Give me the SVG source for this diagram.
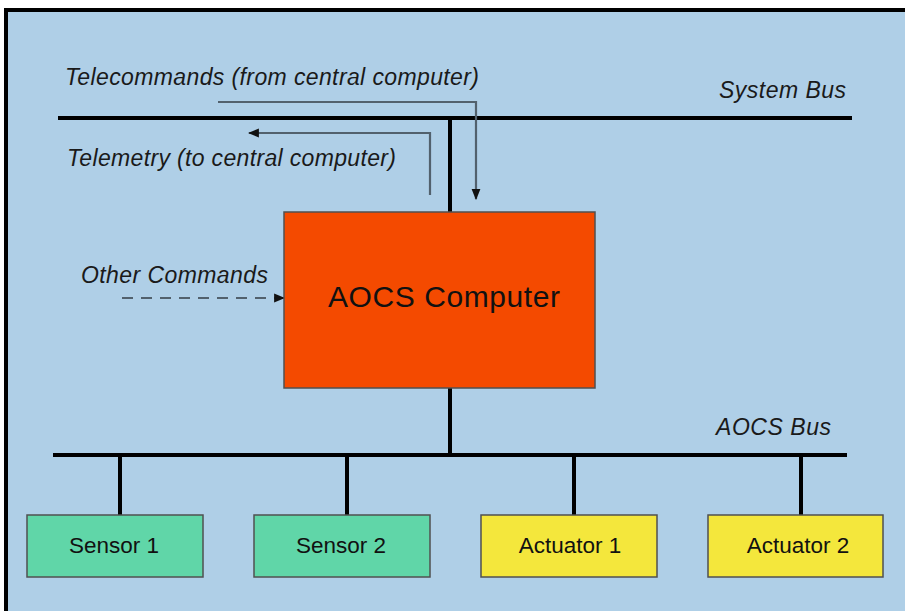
<svg xmlns="http://www.w3.org/2000/svg" width="905" height="611" viewBox="0 0 905 611">
<style>
.lbl{font-family:"Liberation Sans",Arial,sans-serif;font-style:italic;font-size:23px;fill:#1a1a1a}
.bus{stroke:#000;stroke-width:4;fill:none}
.sig{stroke:#52616d;stroke-width:2.2;fill:none}
.box{stroke:#505050;stroke-width:1.5}
.btxt{font-family:"Liberation Sans",Arial,sans-serif;font-size:22.5px;fill:#111;text-anchor:middle}
</style>
<defs>
<marker id="ah2" viewBox="0 0 10 10" refX="9" refY="5" markerWidth="11" markerHeight="11" orient="auto" markerUnits="userSpaceOnUse">
<path d="M0,1 L10,5 L0,9 z" fill="#111"/>
</marker>
</defs>
<rect x="0" y="0" width="905" height="611" fill="#ffffff"/>
<rect x="6" y="10" width="905" height="610" fill="#afcfe7" stroke="#000" stroke-width="4"/>

<g id="connectors">
<line class="bus" x1="58" y1="118" x2="852" y2="118"/>
<line class="bus" x1="450" y1="118" x2="450" y2="212"/>
<path class="sig" d="M218,102 H476 V199" marker-end="url(#ah2)"/>
<path class="sig" d="M430,195 V133 H249" marker-end="url(#ah2)"/>
<line class="sig" x1="122" y1="298" x2="284" y2="298" stroke-dasharray="11,8" marker-end="url(#ah2)"/>
<line class="bus" x1="450" y1="388" x2="450" y2="455"/>
<line class="bus" x1="53" y1="455" x2="847" y2="455"/>
<line class="bus" x1="120" y1="455" x2="120" y2="515"/>
<line class="bus" x1="347" y1="455" x2="347" y2="515"/>
<line class="bus" x1="574" y1="455" x2="574" y2="515"/>
<line class="bus" x1="801" y1="455" x2="801" y2="515"/>
</g>

<g id="labels">
<text class="lbl" x="65" y="85" textLength="414" lengthAdjust="spacing">Telecommands (from central computer)</text>
<text class="lbl" x="67" y="166" textLength="329" lengthAdjust="spacing">Telemetry (to central computer)</text>
<text class="lbl" x="719" y="98" textLength="127" lengthAdjust="spacing">System Bus</text>
<text class="lbl" x="716" y="435" textLength="115" lengthAdjust="spacing">AOCS Bus</text>
<text class="lbl" x="81" y="283" textLength="187" lengthAdjust="spacing">Other Commands</text>
</g>

<g id="aocs-computer">
<rect class="box" x="284" y="212" width="311" height="176" fill="#f44a00"/>
<text x="444" y="307" font-family="'Liberation Sans',Arial,sans-serif" font-size="30" fill="#111" text-anchor="middle" textLength="232" lengthAdjust="spacing">AOCS Computer</text>
</g>

<g id="sensor1">
<rect class="box" x="27" y="515" width="176" height="62" fill="#60d6a8"/>
<text class="btxt" x="114" y="553">Sensor 1</text>
</g>
<g id="sensor2">
<rect class="box" x="254" y="515" width="176" height="62" fill="#60d6a8"/>
<text class="btxt" x="341" y="553">Sensor 2</text>
</g>
<g id="actuator1">
<rect class="box" x="481" y="515" width="176" height="62" fill="#f4e73c"/>
<text class="btxt" x="570" y="553">Actuator 1</text>
</g>
<g id="actuator2">
<rect class="box" x="708" y="515" width="175" height="62" fill="#f4e73c"/>
<text class="btxt" x="798" y="553">Actuator 2</text>
</g>
</svg>
